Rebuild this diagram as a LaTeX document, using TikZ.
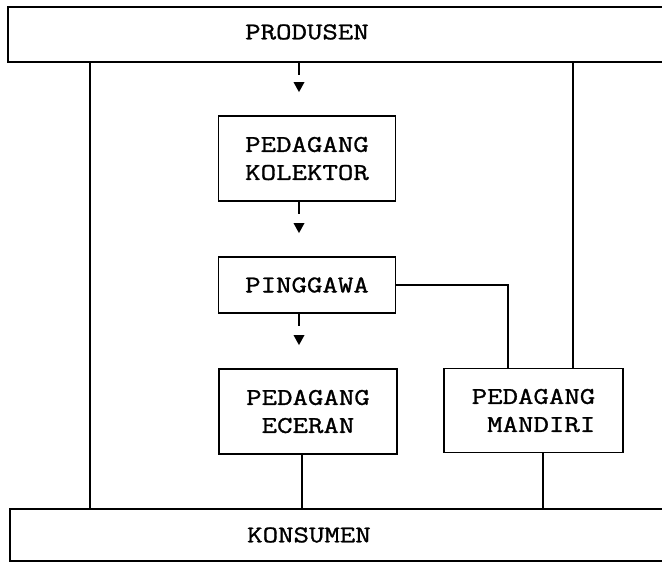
\documentclass[tikz,border=0pt]{standalone}
\usepackage{fontspec}
\setmonofont{Latin Modern Mono}[FakeStretch=1.25, FakeBold=1.2]
\usetikzlibrary{calc}
\begin{document}
\begin{tikzpicture}[x=1pt,y=-1pt, line width=1.8pt,
  box/.style={draw, rectangle, inner sep=0pt, font=\ttfamily\fontsize{24}{28}\selectfont, align=center},
  lbl/.style={inner sep=0pt, font=\ttfamily\fontsize{24}{28}\selectfont}]
\useasboundingbox (0,0) rectangle (662,562);
\clip (0,0) rectangle (662,562);
\fill[white] (0,0) rectangle (662,562);
% nodes
\node[box, minimum width=720, minimum height=55, anchor=north west] (prod) at (7,6) {};
\node[lbl] (prodtxt) at (307,32) {PRODUSEN};
\node[box, minimum width=177, minimum height=85] (kol) at (307,158.5) {PEDAGANG\\KOLEKTOR};
\node[box, minimum width=177, minimum height=56] (ping) at (307,285) {PINGGAWA};
\node[box, minimum width=178, minimum height=85] (ecer) at (308,411.5) {PEDAGANG\\ECERAN};
\node[box, minimum width=179, minimum height=84] (mand) at (533.5,410.5) {PEDAGANG\\\phantom{P}MANDIRI};
\node[box, minimum width=720, minimum height=52, anchor=north west] (kons) at (9,508) {};
\node[lbl] (konstxt) at (309,535) {KONSUMEN};
% helper x positions
\coordinate (lx) at (90,0);
\coordinate (rx) at (573,0);
\coordinate (ax) at (299,0);
\coordinate (mx) at (508,0);
\coordinate (ex) at (302,0);
\coordinate (sx) at (543,0);
% plain connectors
\draw (prod.south -| lx) -- (kons.north -| lx);
\draw (prod.south -| rx) -- (mand.north -| rx);
\draw (ping.east) -| (mand.north -| mx);
\draw (ecer.south -| ex) -- (kons.north -| ex);
\draw (mand.south -| sx) -- (kons.north -| sx);
% arrows (stub + detached triangle)
\path (kol.north -| ax) coordinate (t1);
\path (ping.north -| ax) coordinate (t2);
\path (ecer.north -| ax) coordinate (t3);
\draw (prod.south -| ax) -- ++(0,12);
\fill ($(t1)+(0,-23)$) -- ++(-5.5,-10) -- ++(11,0) -- cycle;
\draw (kol.south -| ax) -- ++(0,12);
\fill ($(t2)+(0,-23)$) -- ++(-5.5,-10) -- ++(11,0) -- cycle;
\draw (ping.south -| ax) -- ++(0,12);
\fill ($(t3)+(0,-23)$) -- ++(-5.5,-10) -- ++(11,0) -- cycle;
\end{tikzpicture}
\end{document}
